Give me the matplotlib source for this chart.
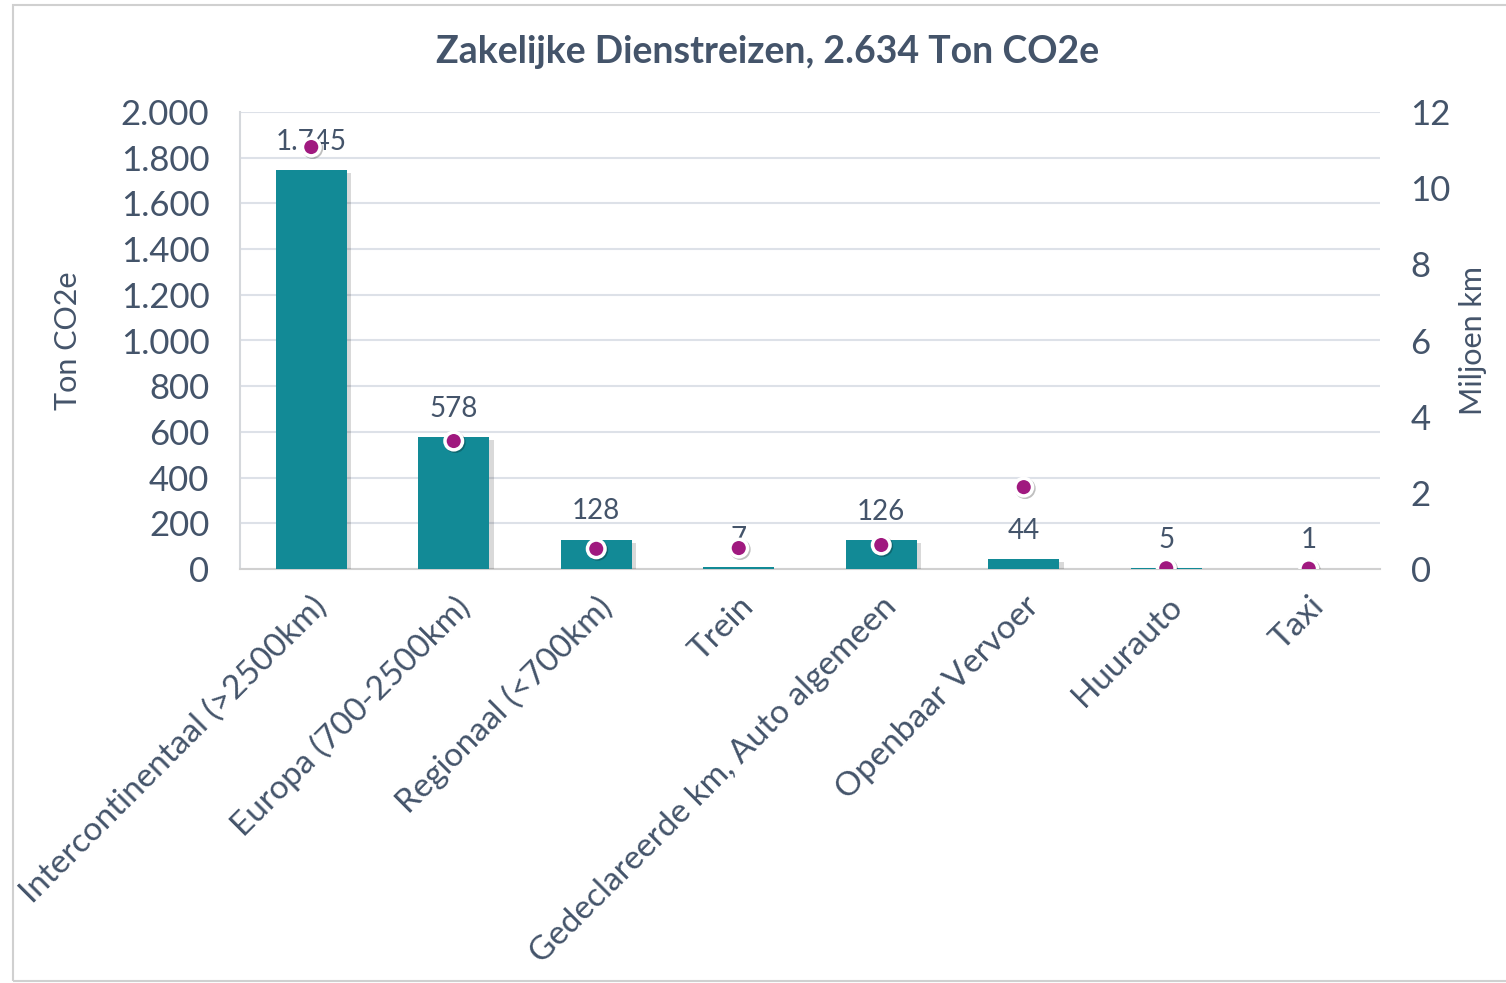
import matplotlib.pyplot as plt
import matplotlib.patheffects as pe
from matplotlib.patches import Rectangle
from matplotlib.ticker import FuncFormatter

categories = ["Intercontinentaal (>2500km)", "Europa (700-2500km)", "Regionaal (<700km)",
              "Trein", "Gedeclareerde km, Auto algemeen", "Openbaar Vervoer",
              "Huurauto", "Taxi"]
ton_co2e = [1745, 578, 128, 7, 126, 44, 5, 1]
miljoen_km = [11.08, 3.36, 0.53, 0.55, 0.63, 2.15, 0.02, 0.01]

TEXT = "#44546a"
TEAL = "#128a96"
DOT = "#a0197f"
GRID = "#dde1e8"

plt.rcParams['font.family'] = ['Lato', 'DejaVu Sans']

fig = plt.figure(figsize=(15.06, 9.83), dpi=100)
fig.patches.append(Rectangle((13 / 1506, 0.002), 1.2, 0.993, transform=fig.transFigure,
                             fill=False, edgecolor="#d0d0d0", linewidth=1.5))
ax = fig.add_axes([240 / 1506, 1 - 569 / 983, 1140 / 1506, 457 / 983])
ax2 = ax.twinx()

x = range(len(categories))
shadow = [pe.SimplePatchShadow(offset=(3, -2), shadow_rgbFace="#000000", alpha=0.15), pe.Normal()]
bars = ax.bar(x, ton_co2e, width=0.5, color=TEAL, zorder=3)
for b in bars:
    b.set_path_effects(shadow)
for i, v in enumerate(ton_co2e):
    ax.annotate(f"{v:,}".replace(",", "."), (i, v), xytext=(0, 11), textcoords="offset points",
                ha="center", va="bottom", fontsize=20, color=TEXT, zorder=5)

ax2.scatter(x, miljoen_km, s=160, color=DOT, edgecolor="white", linewidth=2.5, zorder=6,
            path_effects=[pe.SimpleLineShadow(offset=(1, -1), alpha=0.25), pe.Normal()])

ax.set_xlim(-0.5, len(categories) - 0.5)
ax.set_ylim(0, 2000)
ax.set_yticks(range(0, 2001, 200))
ax.yaxis.set_major_formatter(FuncFormatter(lambda v, p: f"{int(v):,}".replace(",", ".")))
ax2.set_ylim(0, 12)
ax2.set_yticks(range(0, 13, 2))

ax.grid(axis="y", color=GRID, linewidth=1.5, zorder=0)
ax.set_axisbelow(True)
for a in (ax, ax2):
    for s in a.spines.values():
        s.set_visible(False)
    a.tick_params(length=0, labelsize=25, colors=TEXT)
ax.spines["left"].set_visible(True)
ax.spines["left"].set_color("#d5d8dc")
ax.spines["left"].set_linewidth(1.5)
ax.spines["bottom"].set_visible(True)
ax.spines["bottom"].set_color("#d0d0d0")
ax.spines["bottom"].set_linewidth(1.5)
ax.tick_params(axis="y", pad=22)
ax2.tick_params(axis="y", pad=22)

ax.set_xticks(list(x))
ax.set_xticklabels(categories, rotation=45, ha="right", rotation_mode="anchor",
                   fontsize=24, color=TEXT)
ax.tick_params(axis="x", pad=16)

ax.set_ylabel("Ton CO2e", fontsize=22, color=TEXT, labelpad=28)
ax2.set_ylabel("Miljoen km", fontsize=22, color=TEXT, labelpad=6)

fig.text(768 / 1506, 1 - 52 / 983, "Zakelijke Dienstreizen, 2.634 Ton CO2e", ha="center",
         va="center", fontsize=27, fontweight="bold", color=TEXT)

fig.savefig("out.png", dpi=100)
